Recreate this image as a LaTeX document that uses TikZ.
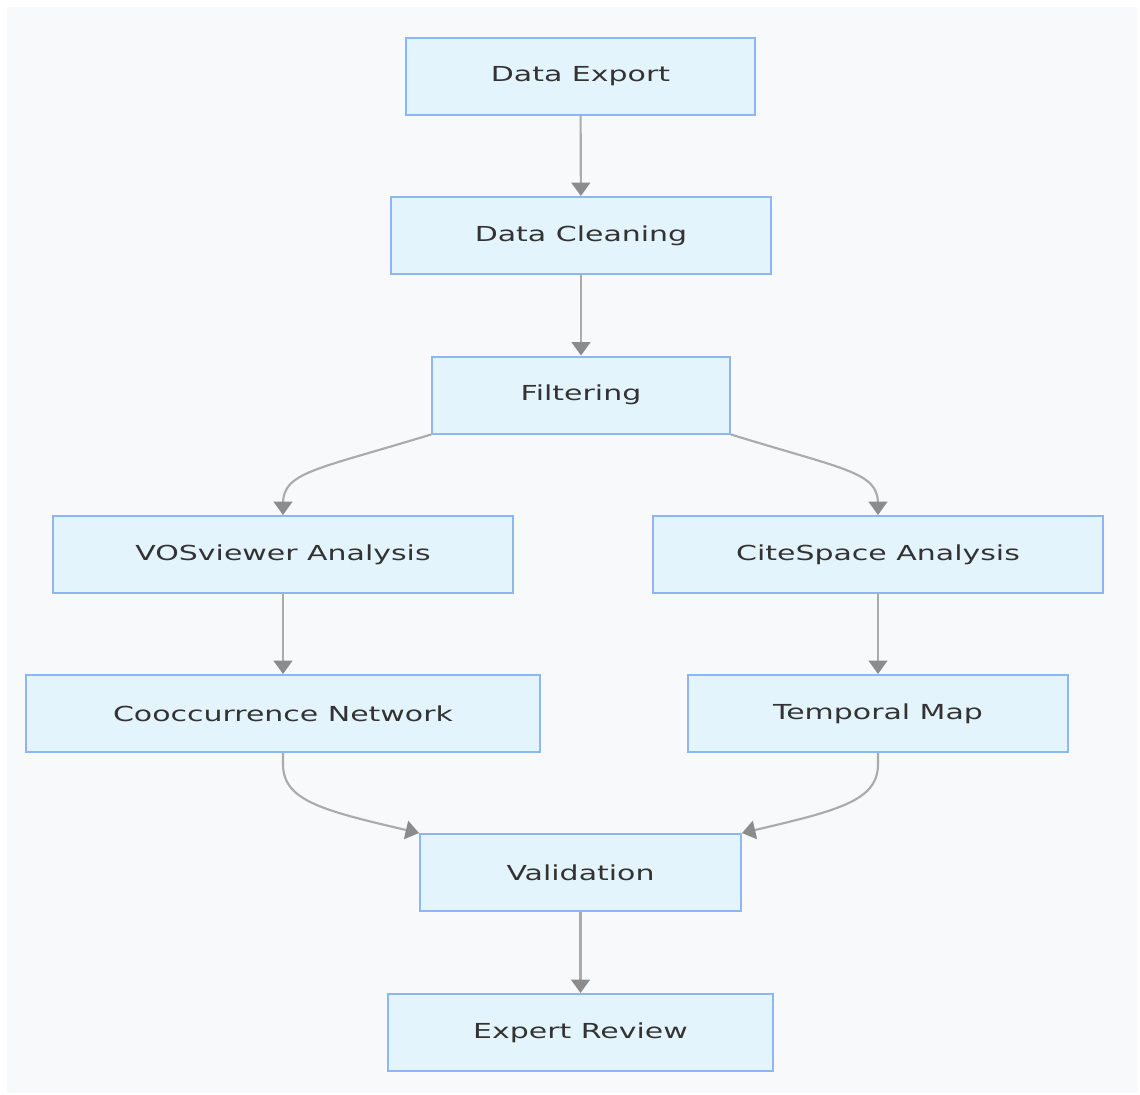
\documentclass[tikz,border=0pt]{standalone}
\usepackage{fontspec}
\usepackage{tikz}
\usetikzlibrary{arrows.meta, positioning}
\newfontfamily\boxfont[FakeStretch=1.45]{DejaVu Sans}
\definecolor{Canvas}{HTML}{F8F9FB}
\definecolor{BoxFill}{HTML}{E4F4FD}
\definecolor{BoxLine}{HTML}{8DB6F5}
\definecolor{Ink}{HTML}{333333}
\definecolor{Wire}{HTML}{ABABAB}
\definecolor{Tip}{HTML}{8C8C8C}

\begin{document}
\begin{tikzpicture}[
  x=0.75pt, y=-0.75pt,
  box/.style={draw=BoxLine, line width=1.5pt, fill=BoxFill,
              minimum height=57.75pt, inner sep=0pt,
              text=Ink, font=\boxfont\fontsize{15.5pt}{17pt}\selectfont},
  arr/.style={-{Triangle[width=14pt,length=10pt,color=Tip]}, line width=1.6pt, color=Wire}
]
  \useasboundingbox (0,0) rectangle (1140,1095);
  \fill[Canvas] (7,7) rectangle (1137,1093);

  \node[box, minimum width=261.75pt] (Exp)  at (580.5,76.5)  {Data Export};
  \node[box, minimum width=285pt]    (Clean) at (581,235.5)  {Data Cleaning};
  \node[box, minimum width=223.5pt]  (Filt) at (581,395)     {Filtering};
  \node[box, minimum width=345pt]    (VOS)  at (283,554.5)   {VOSviewer Analysis};
  \node[box, minimum width=337.5pt]  (Cite) at (878,554.5)   {CiteSpace Analysis};
  \node[box, minimum width=385.5pt]  (Cooc) at (283,713.5)   {Cooccurrence Network};
  \node[box, minimum width=285pt]    (Temp) at (878,713.5)   {Temporal Map};
  \node[box, minimum width=240.75pt] (Val)  at (580.5,872.5) {Validation};
  \node[box, minimum width=288.75pt] (Rev)  at (580.5,1032.5){Expert Review};

  \draw[arr] (Exp) -- (Clean);
  \draw[arr] (Clean) -- (Filt);
  % branches
  \draw[arr] (Filt.south west) .. controls (315,470) and (283,472) .. (283,504) -- (VOS.north);
  \draw[arr] (Filt.south east) .. controls (846,470) and (878,472) .. (878,504) -- (Cite.north);
  \draw[arr] (VOS) -- (Cooc);
  \draw[arr] (Cite) -- (Temp);
  % merge
  \draw[arr] (Cooc.south) -- (283,764) .. controls (283,800) and (320,810) .. (Val.north west);
  \draw[arr] (Temp.south) -- (878,764) .. controls (878,800) and (841,810) .. (Val.north east);
  \draw[arr] (Val) -- (Rev);
\end{tikzpicture}
\end{document}
